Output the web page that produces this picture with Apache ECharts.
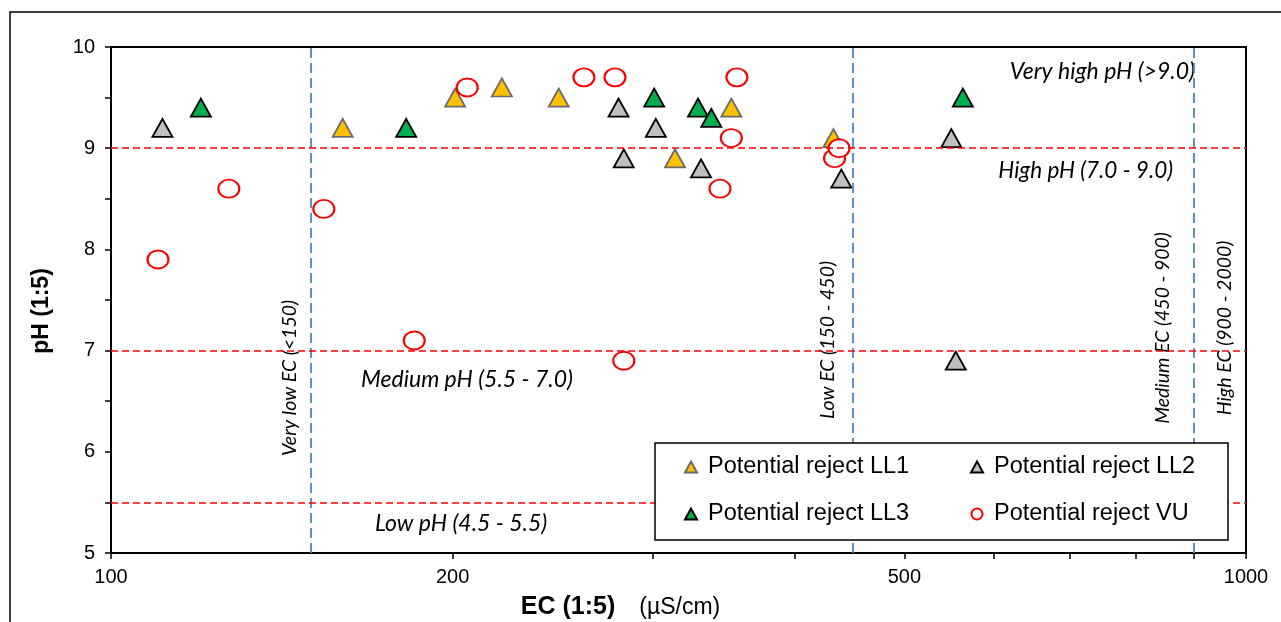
<!DOCTYPE html>
<html><head><meta charset="utf-8">
<script src="https://cdn.jsdelivr.net/npm/echarts@6/dist/echarts.min.js"></script>
<style>html,body{margin:0;padding:0;background:#fff}#c{width:1281px;height:622px}</style>
</head><body><div id="c"></div>
<script>
// ---- data (EC in µS/cm, pH) ----
const ll1EC = [160, 201, 221, 248, 314, 352, 433];
const ll1PH = [9.2, 9.5, 9.6, 9.5, 8.9, 9.4, 9.1];
const ll2EC = [111, 280, 283, 302, 331, 440, 550, 555];
const ll2PH = [9.2, 9.4, 8.9, 9.2, 8.8, 8.7, 9.1, 6.9];
const ll3EC = [120, 182, 301, 329, 338, 563];
const ll3PH = [9.4, 9.2, 9.5, 9.4, 9.3, 9.5];
const vuEC = [110, 127, 154, 185, 206, 261, 278, 283, 344, 352, 356, 434, 438];
const vuPH = [7.9, 8.6, 8.4, 7.1, 9.6, 9.7, 9.7, 6.9, 8.6, 9.1, 9.7, 8.9, 9.0];
const seriesNames = ['Potential reject LL1', 'Potential reject LL2', 'Potential reject LL3', 'Potential reject VU'];
const ecClassBounds = [150, 450, 900];
const phClassBounds = [9.0, 7.0, 5.5];
const xTickValues = [100, 200, 300, 400, 500, 600, 700, 800, 900, 1000];
const xLabelValues = [100, 200, 500, 1000];

const pairs = (xs, ys) => xs.map((x, i) => [x, ys[i]]);
const FONT = 'Liberation Sans';
const ZFONT = 'Lato';

const chart = echarts.init(document.getElementById('c'), null, {renderer: 'canvas'});

const triSize = [20, 18];
const legendCommon = {
  orient: 'vertical', top: 453, padding: 0,
  itemGap: 19, itemWidth: 12, itemHeight: 11, z: 8,
  textStyle: {fontFamily: FONT, fontSize: 23.5, color: '#000', lineHeight: 28, padding: [0, 0, 0, 6]}
};
const option = {
  animation: false,
  backgroundColor: '#fff',
  grid: {left: 111, right: 35, top: 47, bottom: 69, show: true, borderColor: '#000', borderWidth: 2,
         backgroundColor: 'transparent', outerBoundsMode: 'none', containLabel: false},
  xAxis: {
    type: 'log', logBase: 10, min: 100, max: 1000,
    axisLine: {show: true, lineStyle: {color: '#000', width: 2}},
    axisTick: {show: true, length: 6, customValues: xTickValues, lineStyle: {color: '#000', width: 1.5}},
    axisLabel: {customValues: xLabelValues, margin: 14, fontSize: 20, color: '#000', fontFamily: FONT,
      formatter: v => String(Math.round(v))},
    splitLine: {show: false},
    name: '{b|EC (1:5)}{n|(µS/cm)}',
    nameLocation: 'middle', nameGap: 42,
    nameTextStyle: {
      padding: [0, 116, 0, 0],
      rich: {
        b: {fontWeight: 'bold', fontSize: 25, fontFamily: FONT, color: '#000'},
        n: {fontSize: 23, fontFamily: FONT, color: '#000', padding: [0, 0, 0, 24]}
      }
    }
  },
  yAxis: {
    type: 'value', min: 5, max: 10, interval: 1,
    axisLine: {show: true, lineStyle: {color: '#000', width: 2}},
    axisTick: {show: true, length: 6, lineStyle: {color: '#000', width: 1.5}},
    minorTick: {show: true, splitNumber: 2, length: 6, lineStyle: {color: '#000', width: 1.5}},
    axisLabel: {margin: 16, fontSize: 20, color: '#000', fontFamily: FONT},
    splitLine: {show: false}, minorSplitLine: {show: false},
    name: 'pH (1:5)', nameLocation: 'middle', nameGap: 58, nameRotate: 90,
    nameTextStyle: {fontWeight: 'bold', fontSize: 23, fontFamily: FONT, color: '#000', padding: [0, 22, 0, 0]}
  },
  legend: [
    Object.assign({}, legendCommon, {left: 684, data: [seriesNames[0], seriesNames[2]]}),
    Object.assign({}, legendCommon, {left: 970, data: [seriesNames[1], seriesNames[3]]})
  ],
  series: [
    {
      name: 'ref', type: 'scatter', data: [], silent: true, z: 1,
      markLine: {
        silent: true, symbol: ['none', 'none'], animation: false,
        label: {show: false},
        data: [
          ...ecClassBounds.map(v => ({xAxis: v, lineStyle: {color: '#4f86c6', type: [10, 5], width: 1.8}})),
          ...phClassBounds.map(v => ({yAxis: v, lineStyle: {color: '#ff0000', type: [7, 4], width: 1.6}}))
        ]
      }
    },
    {name: seriesNames[0], type: 'scatter', symbol: 'triangle', symbolSize: triSize, z: 3,
     itemStyle: {color: '#ffc000', borderColor: '#6b6b6b', borderWidth: 1.8, opacity: 1},
     data: pairs(ll1EC, ll1PH)},
    {name: seriesNames[1], type: 'scatter', symbol: 'triangle', symbolSize: triSize, z: 3,
     itemStyle: {color: '#bfbfbf', borderColor: '#000', borderWidth: 1.8, opacity: 1},
     data: pairs(ll2EC, ll2PH)},
    {name: seriesNames[2], type: 'scatter', symbol: 'triangle', symbolSize: triSize, z: 3,
     itemStyle: {color: '#00b050', borderColor: '#000', borderWidth: 1.8, opacity: 1},
     data: pairs(ll3EC, ll3PH)},
    {name: seriesNames[3], type: 'scatter', symbol: 'circle', symbolSize: [21, 18], z: 4,
     itemStyle: {color: '#fff', borderColor: '#ff0000', borderWidth: 2, opacity: 1},
     data: pairs(vuEC, vuPH)}
  ],
  graphic: [
    {type: 'rect', silent: true, z: -1, shape: {x: 10, y: 12, width: 1300, height: 700}, style: {fill: 'none', stroke: '#000', lineWidth: 1.5}},
    {type: 'rect', silent: true, z: 7, shape: {x: 655, y: 443, width: 573, height: 97}, style: {fill: '#fff', stroke: '#000', lineWidth: 1.5}},
    {type: 'text', silent: true, x: 1195, y: 72, style: {text: 'Very high pH (>9.0)', font: 'italic 23px ' + ZFONT, fill: '#000', align: 'right', verticalAlign: 'middle'}},
    {type: 'text', silent: true, x: 1173, y: 171, style: {text: 'High pH (7.0 - 9.0)', font: 'italic 22.5px ' + ZFONT, fill: '#000', align: 'right', verticalAlign: 'middle'}},
    {type: 'text', silent: true, x: 361, y: 380, style: {text: 'Medium pH (5.5 - 7.0)', font: 'italic 23px ' + ZFONT, fill: '#000', align: 'left', verticalAlign: 'middle'}},
    {type: 'text', silent: true, x: 375, y: 524, style: {text: 'Low pH (4.5 - 5.5)', font: 'italic 23px ' + ZFONT, fill: '#000', align: 'left', verticalAlign: 'middle'}},
    {type: 'text', silent: true, x: 290, y: 378, rotation: Math.PI / 2, style: {text: 'Very low EC (<150)', font: 'italic 19.5px ' + ZFONT, fill: '#000', align: 'center', verticalAlign: 'middle'}},
    {type: 'text', silent: true, x: 828, y: 340, rotation: Math.PI / 2, style: {text: 'Low EC (150 - 450)', font: 'italic 19.5px ' + ZFONT, fill: '#000', align: 'center', verticalAlign: 'middle'}},
    {type: 'text', silent: true, x: 1163, y: 328, rotation: Math.PI / 2, style: {text: 'Medium EC (450 - 900)', font: 'italic 19.5px ' + ZFONT, fill: '#000', align: 'center', verticalAlign: 'middle'}},
    {type: 'text', silent: true, x: 1225, y: 328, rotation: Math.PI / 2, style: {text: 'High EC (900 - 2000)', font: 'italic 19.5px ' + ZFONT, fill: '#000', align: 'center', verticalAlign: 'middle'}}
  ]
};
chart.setOption(option);
</script>
</body></html>
